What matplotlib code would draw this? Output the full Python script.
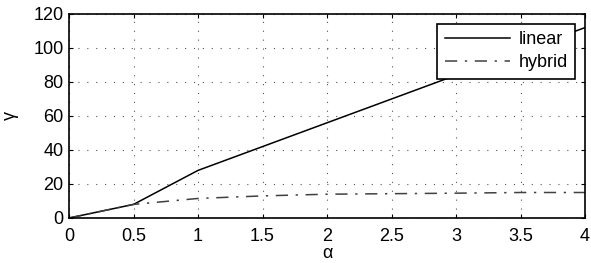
import matplotlib.pyplot as plt
import numpy as np

plt.rcParams["font.family"] = ["Liberation Sans", "DejaVu Sans"]
plt.rcParams["font.size"] = 13

alpha = [0, 0.5, 1, 1.5, 2, 2.5, 3, 3.5, 4]
linear = [0, 8, 28, 42, 56, 70, 84, 98, 112]
hybrid = [0, 8, 11.5, 13, 14, 14.3, 14.6, 15, 15]

fig = plt.figure(figsize=(5.91, 2.63), dpi=100)
ax = fig.add_axes([69 / 591, 1 - 218 / 263, (585 - 69) / 591, (218 - 14) / 263])

ax.plot(alpha, linear, color="black", lw=1.1, label="linear")
ax.plot(alpha, hybrid, color="#404040", lw=1.1, dashes=[8, 5, 1.5, 5], label="hybrid")

ax.set_xlim(0, 4)
ax.set_ylim(0, 120)
ax.set_xticks(np.arange(0, 4.5, 0.5))
ax.set_xticklabels(["0", "0.5", "1", "1.5", "2", "2.5", "3", "3.5", "4"])
ax.set_yticks(np.arange(0, 121, 20))
ax.grid(True, color="#555555", linestyle=(0, (1, 7)), lw=0.8)
ax.tick_params(direction="in", top=True, right=True, length=3)
ax.tick_params(axis="x", pad=7)
ax.tick_params(axis="y", pad=4)
for s in ax.spines.values():
    s.set_linewidth(1.2)

ax.set_xlabel("α", labelpad=0)
ax.set_ylabel("γ", labelpad=10)

leg = ax.legend(loc="upper right", fancybox=False, edgecolor="black",
                framealpha=1, borderpad=0.4, handlelength=3.6, labelspacing=0.35,
                handletextpad=0.5, borderaxespad=0.55)
leg.get_frame().set_linewidth(1.2)

fig.savefig("out.png", dpi=100)
